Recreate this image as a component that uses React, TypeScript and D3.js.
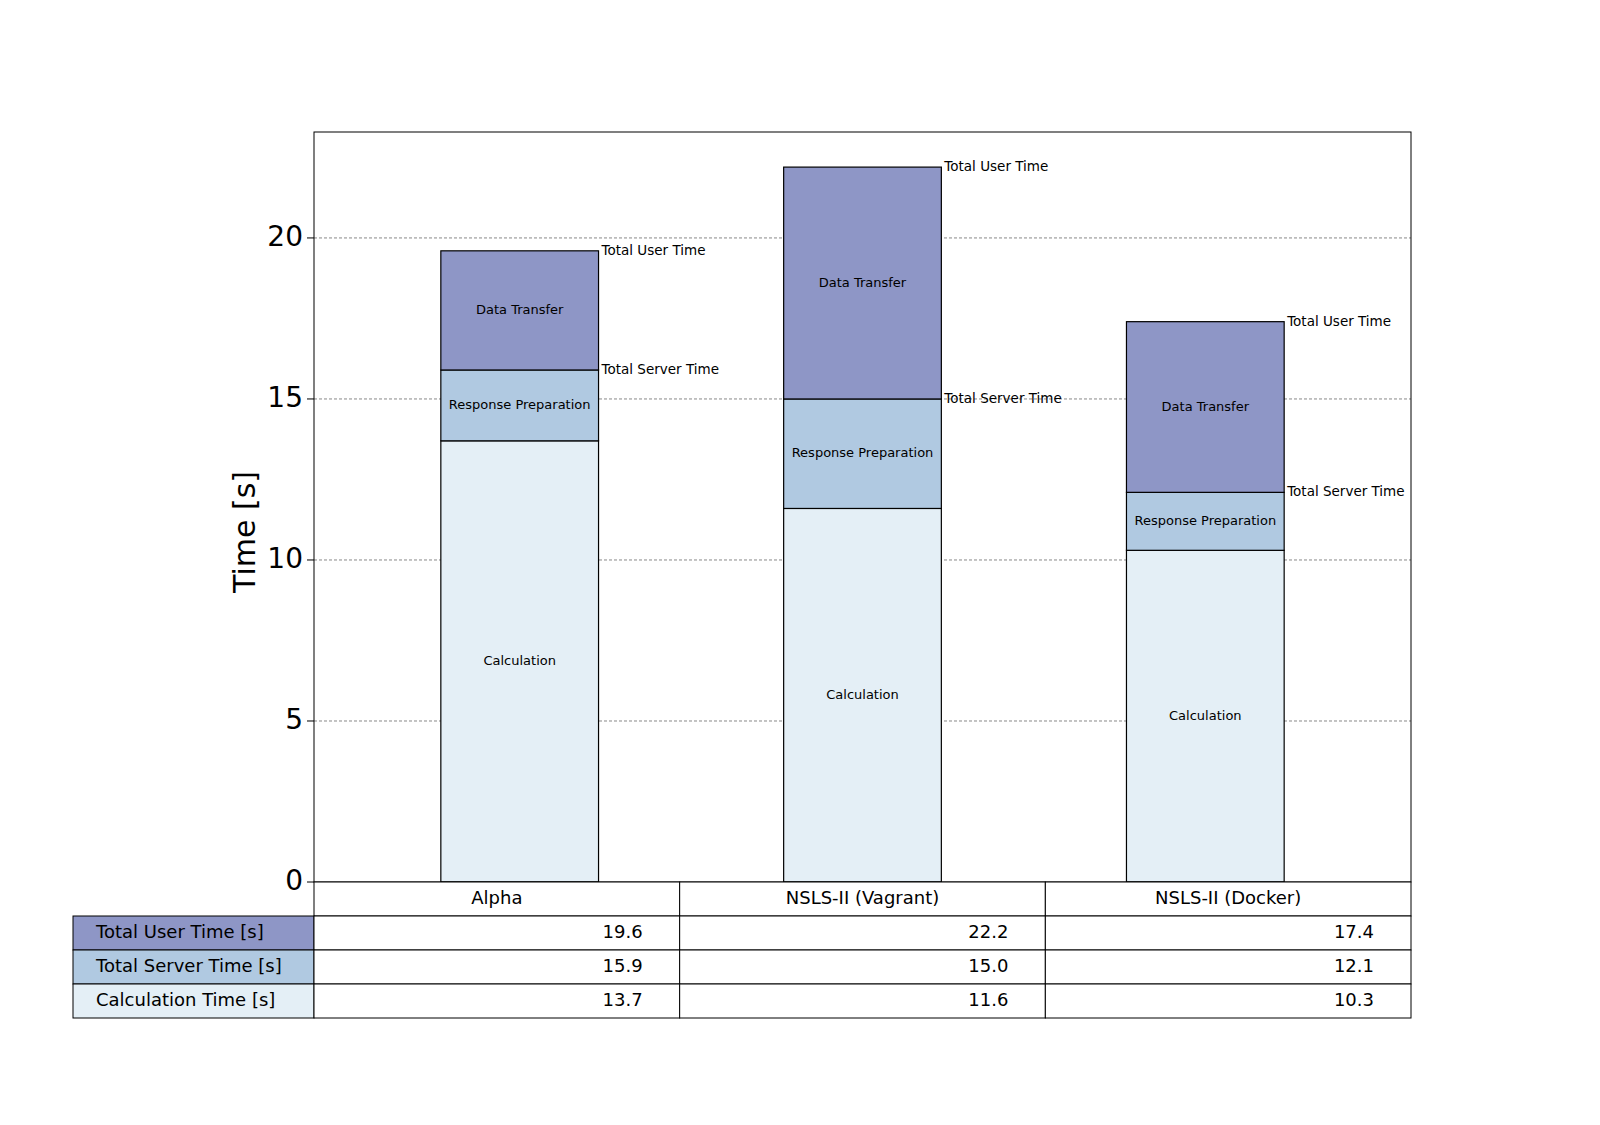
import React from "react";
import * as d3 from "d3";

const categories = ["Alpha", "NSLS-II (Vagrant)", "NSLS-II (Docker)"];
const userTime = [19.6, 22.2, 17.4];
const serverTime = [15.9, 15.0, 12.1];
const calcTime = [13.7, 11.6, 10.3];
const yTicks = [0, 5, 10, 15, 20];
const rowLabels = ["Total User Time [s]", "Total Server Time [s]", "Calculation Time [s]"];
const rowColors = ["#8e96c6", "#b0c9e1", "#e4eff6"];

const W = 1600, H = 1125;
const left = 314, right = 1411, top = 132, bottom = 882;
const font = "DejaVu Sans, sans-serif";

export default function App() {
  const y = d3.scaleLinear().domain([0, 23.29]).range([bottom, top]);
  const x = d3.scaleLinear().domain([-0.6, 2.6]).range([left, right]);
  const bw = x(0.46) - x(0);
  const cell = d3.scaleBand().domain(categories).range([left, right]);
  const rowH = 34;
  const rows = [userTime, serverTime, calcTime];

  return (
    <svg width={W} height={H} style={{ display: "block", margin: -8 }} fontFamily={font}>
      <rect width={W} height={H} fill="#fff" />
      {yTicks.filter((t) => t > 0).map((t) => (
        <line key={t} x1={left} x2={right} y1={y(t)} y2={y(t)} stroke="#888" strokeDasharray="3,2" />
      ))}
      {categories.map((c, i) => {
        const x0 = x(i) - bw / 2;
        const segs = [
          { lo: 0, hi: calcTime[i], col: rowColors[2], label: "Calculation" },
          { lo: calcTime[i], hi: serverTime[i], col: rowColors[1], label: "Response Preparation" },
          { lo: serverTime[i], hi: userTime[i], col: rowColors[0], label: "Data Transfer" },
        ];
        return (
          <g key={c}>
            {segs.map((s) => (
              <g key={s.label}>
                <rect x={x0} width={bw} y={y(s.hi)} height={y(s.lo) - y(s.hi)} fill={s.col} stroke="#000" strokeWidth={1.2} />
                <text x={x(i)} y={(y(s.lo) + y(s.hi)) / 2} textAnchor="middle" dominantBaseline="middle" fontSize={13}>
                  {s.label}
                </text>
              </g>
            ))}
            <text x={x0 + bw + 3} y={y(userTime[i])} fontSize={13.5} dominantBaseline="middle">Total User Time</text>
            <text x={x0 + bw + 3} y={y(serverTime[i])} fontSize={13.5} dominantBaseline="middle">Total Server Time</text>
          </g>
        );
      })}
      <rect x={left} y={top} width={right - left} height={bottom - top} fill="none" stroke="#000" />
      {yTicks.map((t) => (
        <g key={t}>
          <line x1={left - 7} x2={left} y1={y(t)} y2={y(t)} stroke="#000" />
          <text x={left - 11} y={y(t)} textAnchor="end" dominantBaseline="middle" fontSize={28}>{t}</text>
        </g>
      ))}
      <text transform={`translate(255,${(top + bottom) / 2 + 25}) rotate(-90)`} textAnchor="middle" fontSize={30}>Time [s]</text>
      {categories.map((c) => (
        <g key={c}>
          <rect x={cell(c)!} y={bottom} width={cell.bandwidth()} height={rowH} fill="#fff" stroke="#000" />
          <text x={cell(c)! + cell.bandwidth() / 2} y={bottom + rowH / 2} textAnchor="middle" dominantBaseline="middle" fontSize={18}>{c}</text>
        </g>
      ))}
      {rows.map((vals, r) => {
        const ry = bottom + rowH * (r + 1);
        return (
          <g key={r}>
            <rect x={73} y={ry} width={left - 73} height={rowH} fill={rowColors[r]} stroke="#000" />
            <text x={96} y={ry + rowH / 2} dominantBaseline="middle" fontSize={18}>{rowLabels[r]}</text>
            {categories.map((c, i) => (
              <g key={c}>
                <rect x={cell(c)!} y={ry} width={cell.bandwidth()} height={rowH} fill="#fff" stroke="#000" />
                <text x={cell(c)! + cell.bandwidth() - 37} y={ry + rowH / 2} textAnchor="end" dominantBaseline="middle" fontSize={18}>
                  {vals[i].toFixed(1)}
                </text>
              </g>
            ))}
          </g>
        );
      })}
    </svg>
  );
}
